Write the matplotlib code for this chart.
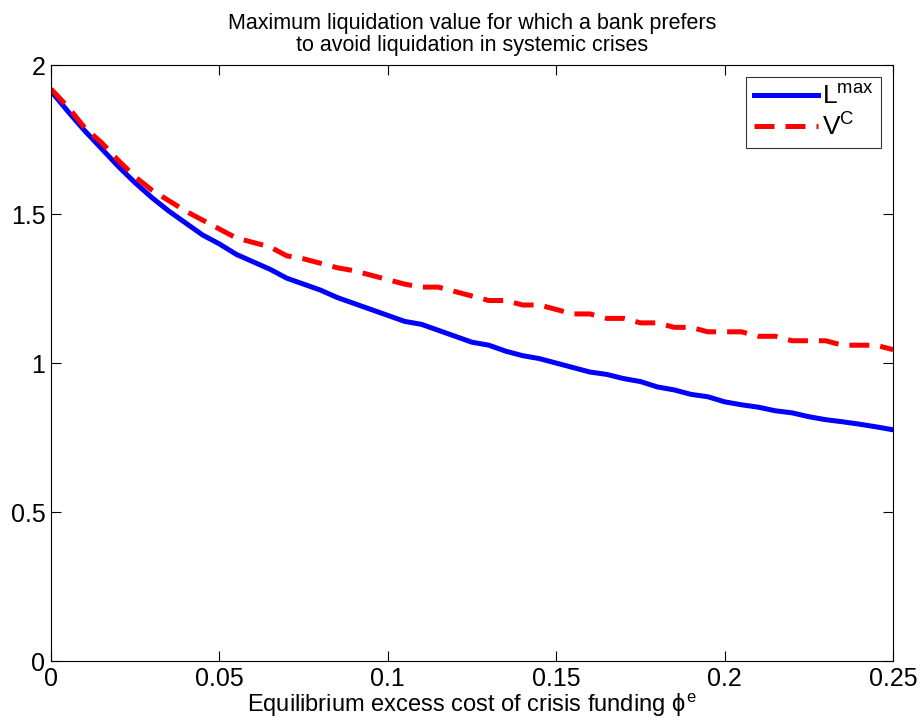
import numpy as np
import matplotlib
matplotlib.use("Agg")
import matplotlib.pyplot as plt

plt.rcParams['font.family'] = ['Liberation Sans', 'DejaVu Sans']
plt.rcParams['mathtext.fontset'] = 'custom'
plt.rcParams['mathtext.rm'] = 'Liberation Sans'
plt.rcParams['mathtext.it'] = 'Liberation Sans'

# excess cost of crisis funding, step 0.005
phi_e = np.round(np.arange(0, 0.2501, 0.005), 3)

L_max = [1.913, 1.845, 1.78, 1.72, 1.66, 1.605, 1.555, 1.51, 1.47, 1.43,
         1.40, 1.365, 1.34, 1.315, 1.285, 1.265, 1.245, 1.22, 1.20, 1.18,
         1.16, 1.14, 1.13, 1.11, 1.09, 1.07, 1.06, 1.04, 1.025, 1.015,
         1.00, 0.985, 0.97, 0.962, 0.948, 0.938, 0.92, 0.91, 0.895, 0.887,
         0.87, 0.86, 0.852, 0.84, 0.833, 0.82, 0.81, 0.803, 0.795, 0.786,
         0.776]

V_C = [1.92, 1.86, 1.79, 1.74, 1.68, 1.625, 1.58, 1.545, 1.51, 1.48,
       1.45, 1.42, 1.405, 1.39, 1.36, 1.35, 1.335, 1.32, 1.31, 1.295,
       1.28, 1.265, 1.255, 1.255, 1.24, 1.225, 1.21, 1.21, 1.195, 1.195,
       1.18, 1.165, 1.165, 1.15, 1.15, 1.135, 1.135, 1.12, 1.12, 1.105,
       1.105, 1.105, 1.09, 1.09, 1.075, 1.075, 1.075, 1.06, 1.06, 1.06,
       1.045]

x_ticks = [0, 0.05, 0.1, 0.15, 0.2, 0.25]
x_labels = ['0', '0.05', '0.1', '0.15', '0.2', '0.25']
y_ticks = [0, 0.5, 1, 1.5, 2]
y_labels = ['0', '0.5', '1', '1.5', '2']

fig = plt.figure(figsize=(9.24, 7.24), dpi=100)
ax = fig.add_axes([0.0552, 0.087, 0.9113, 0.823])

ax.plot(phi_e, L_max, color='#0000ff', lw=3.6, label=r'L$^{\mathrm{max}}$')
ax.plot(phi_e, V_C, color='#ff0000', lw=3.6, ls=(0, (4, 2.2)), label=r'V$^{\mathrm{C}}$')

ax.set_xlim(0, 0.25)
ax.set_ylim(0, 2)
ax.set_xticks(x_ticks)
ax.set_xticklabels(x_labels)
ax.set_yticks(y_ticks)
ax.set_yticklabels(y_labels)
ax.tick_params(direction='in', top=True, right=True, length=7, width=0.8,
               labelsize=18, pad=4)
for s in ax.spines.values():
    s.set_linewidth(0.8)

ax.set_title('Maximum liquidation value for which a bank prefers\n'
             'to avoid liquidation in systemic crises', fontsize=15.5, pad=10,
             linespacing=1.05)
ax.set_xlabel(r'Equilibrium excess cost of crisis funding $\phi^{e}$',
              fontsize=17, labelpad=1)

leg = ax.legend(loc='upper right', fontsize=19, frameon=True, fancybox=False,
                handlelength=2.4, borderaxespad=0.45, handletextpad=0.15,
                borderpad=0.3, labelspacing=0.15)
leg.get_frame().set_edgecolor('black')
leg.get_frame().set_linewidth(0.8)

fig.savefig('out.png', dpi=100)
